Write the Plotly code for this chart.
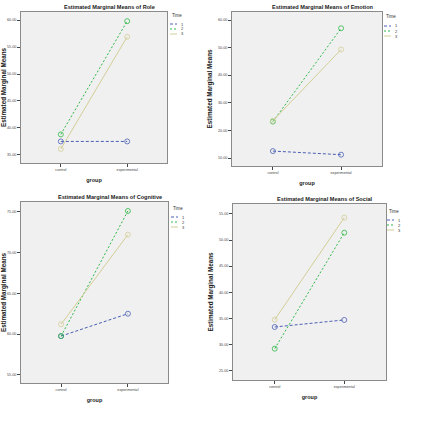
import plotly.graph_objects as go

W, H = 448, 438

groups = ["control", "experimental"]
time_names = ["1", "2", "3"]

role_t1 = [37.5, 37.5]
role_t2 = [38.8, 59.8]
role_t3 = [36.1, 56.9]

emotion_t1 = [12.5, 11.2]
emotion_t2 = [23.2, 57.0]
emotion_t3 = [23.5, 49.3]

cognitive_t1 = [59.75, 62.5]
cognitive_t2 = [59.75, 75.1]
cognitive_t3 = [61.2, 72.2]

social_t1 = [33.35, 34.7]
social_t2 = [29.2, 51.4]
social_t3 = [34.75, 54.3]

role_ticks = [35, 40, 45, 50, 55, 60]
emotion_ticks = [10, 20, 30, 40, 50, 60]
cognitive_ticks = [55, 60, 65, 70, 75]
social_ticks = [25, 30, 35, 40, 45, 50, 55]

titles = ["Estimated Marginal Means of Role", "Estimated Marginal Means of Emotion",
          "Estimated Marginal Means of Cognitive", "Estimated Marginal Means of Social"]

colors = ["#4A5FB5", "#2EB848", "#D3CE97"]
dashes = ["3px,2px", "2px,2px", "solid"]

# layout in pixels: (left, right, top, bottom) of each plot box
boxes = [(21, 167, 12, 163), (232, 382, 12, 166), (21, 168, 202, 383), (233, 386, 204, 380)]
yranges = [[33.5, 61.5], [7.1, 62.9], [54.0, 76.2], [23.2, 56.9]]
title_pos = [(109, 7), (323, 7), (110, 197), (325, 199)]
legend_pos = [(170, 15), (384, 17), (171, 208), (387, 211)]

panels = [
    (role_t1, role_t2, role_t3, role_ticks),
    (emotion_t1, emotion_t2, emotion_t3, emotion_ticks),
    (cognitive_t1, cognitive_t2, cognitive_t3, cognitive_ticks),
    (social_t1, social_t2, social_t3, social_ticks),
]

FONT = "Liberation Sans, Arial, sans-serif"

fig = go.Figure()
annotations = []
shapes = []

for p, (t1, t2, t3, ticks) in enumerate(panels):
    ax = "" if p == 0 else str(p + 1)
    for i, series in enumerate([t1, t2, t3]):
        fig.add_trace(go.Scatter(
            x=groups, y=series, mode="lines+markers",
            line=dict(color=colors[i], dash=dashes[i], width=1),
            marker=dict(symbol="circle-open", size=5, color=colors[i], line=dict(width=0.8)),
            name=time_names[i], showlegend=False,
            xaxis="x" + ax, yaxis="y" + ax,
        ))
    l, r, t, b = boxes[p]
    xdom = [l / W, r / W]
    ydom = [1 - b / H, 1 - t / H]
    axis_common = dict(showline=True, mirror=True, linecolor="#8a8a8a", linewidth=1,
                       showgrid=False, zeroline=False, ticks="outside", ticklen=3,
                       tickcolor="#444", tickwidth=0.7,
                       tickfont=dict(size=3.7, color="#444", family=FONT))
    fig.update_layout(**{
        "xaxis" + ax: dict(domain=xdom, anchor="y" + ax, type="category",
                           categoryorder="array", categoryarray=groups,
                           range=[-0.6, 1.6],
                           title=dict(text="<b>group</b>", font=dict(size=5.5, color="#222", family=FONT),
                                      standoff=6),
                           **axis_common),
        "yaxis" + ax: dict(domain=ydom, anchor="x" + ax, range=yranges[p],
                           tickvals=ticks, ticktext=["%.2f" % v for v in ticks],
                           title=dict(text="<b>Estimated Marginal Means</b>",
                                      font=dict(size=6.3, color="#222", family=FONT), standoff=4),
                           **axis_common),
    })
    tx, ty = title_pos[p]
    annotations.append(dict(text="<b>" + titles[p] + "</b>", x=tx / W, y=1 - ty / H,
                            xref="paper", yref="paper", showarrow=False,
                            font=dict(size=5.6, color="#222", family=FONT),
                            xanchor="center", yanchor="middle"))
    # legend
    lx, ly = legend_pos[p]
    annotations.append(dict(text="Time", x=lx / W, y=1 - ly / H, xref="paper", yref="paper",
                            showarrow=False, font=dict(size=4.5, color="#333", family=FONT),
                            xanchor="left", yanchor="middle"))
    for i in range(3):
        ey = ly + 9 + i * 5
        shapes.append(dict(type="line", xref="paper", yref="paper",
                           x0=lx / W, x1=(lx + 7) / W, y0=1 - ey / H, y1=1 - ey / H,
                           line=dict(color=colors[i], width=1, dash=dashes[i])))
        annotations.append(dict(text=time_names[i], x=(lx + 8.5) / W, y=1 - ey / H,
                                xref="paper", yref="paper", showarrow=False,
                                font=dict(size=4, color="#333", family=FONT),
                                xanchor="left", yanchor="middle"))

fig.update_layout(
    width=W, height=H, margin=dict(l=0, r=0, t=0, b=0),
    paper_bgcolor="white", plot_bgcolor="#F0F0F0",
    annotations=annotations, shapes=shapes, showlegend=False,
    font=dict(family=FONT),
)

fig.write_html("out.html")
